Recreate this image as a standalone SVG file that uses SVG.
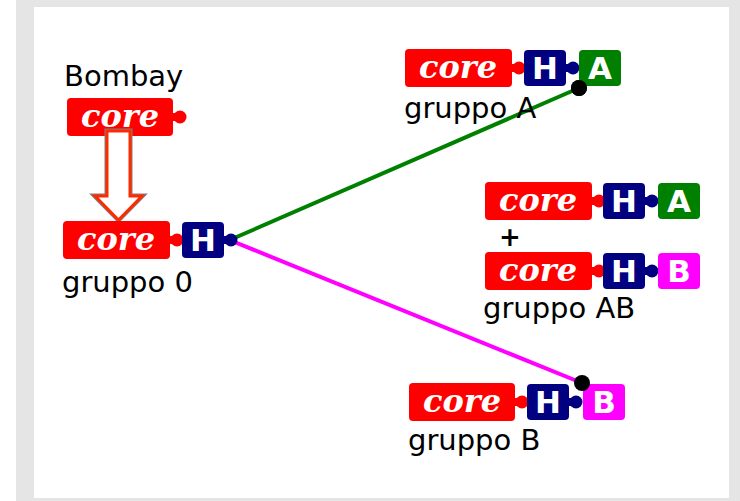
<svg xmlns="http://www.w3.org/2000/svg" width="740" height="501" viewBox="0 0 740 501">
<style>
.core{fill:#ff0000}
.h{fill:#000080}
.a{fill:#008000}
.b{fill:#ff00ff}
.ct{font-family:"DejaVu Serif",serif;font-weight:bold;font-style:italic;font-size:32px;fill:#fff;text-anchor:middle}
.lt{font-family:"DejaVu Sans",sans-serif;font-weight:bold;font-size:31px;fill:#fff;text-anchor:middle}
.lbl{font-family:"DejaVu Sans",sans-serif;font-size:29px;fill:#000}
</style>
<defs>
<g id="knobR"><rect x="-2" y="-4" width="8" height="8" fill="#ff0000"/><circle cx="7" cy="0" r="6.5" fill="#ff0000"/></g>
<g id="knobH"><rect x="-2" y="-4" width="8" height="8" fill="#000080"/><circle cx="7" cy="0" r="6.5" fill="#000080"/></g>
</defs>
<rect x="16" y="0" width="724" height="501" fill="#e5e5e5"/>
<rect x="34" y="7" width="695" height="491" fill="#fff"/>
<g id="connectors">
<line x1="232" y1="239" x2="579" y2="88" stroke="#008000" stroke-width="4"/>
<line x1="232" y1="241" x2="582" y2="383" stroke="#ff00ff" stroke-width="4"/>
<circle cx="579" cy="88" r="8" fill="#000"/>
</g>
<g id="bombay">
<text class="lbl" x="64" y="86">Bombay</text>
<use href="#knobR" x="173" y="117"/>
<rect class="core" x="67" y="98" width="106" height="38" rx="4"/>
<text class="ct" x="120" y="127">core</text>
</g>
<g id="arrow">
<path d="M107,131 H130 V196 H142 L118.5,220 L95,196 H107 Z" fill="#fff" stroke="#808080" stroke-width="5" stroke-linejoin="miter"/>
<path d="M107,131 H130 V196 H142 L118.5,220 L95,196 H107 Z" fill="#fff" stroke="#ff2a00" stroke-width="3" stroke-linejoin="miter"/>
</g>
<g id="gruppo0">
<use href="#knobR" x="170" y="240"/>
<rect class="core" x="63" y="221" width="107" height="38" rx="4"/>
<text class="ct" x="116" y="250">core</text>
<use href="#knobH" x="224" y="240"/>
<rect class="h" x="182" y="222" width="42" height="36" rx="4"/>
<text class="lt" x="203" y="251">H</text>
<text class="lbl" x="62" y="292">gruppo 0</text>
</g>
<g id="gruppoA">
<use href="#knobR" x="512" y="68"/>
<rect class="core" x="405" y="49" width="107" height="38" rx="4"/>
<text class="ct" x="458" y="78">core</text>
<use href="#knobH" x="566" y="68"/>
<rect class="h" x="524" y="50" width="42" height="36" rx="4"/>
<text class="lt" x="545" y="79">H</text>
<rect class="a" x="579" y="50" width="42" height="36" rx="4"/>
<text class="lt" x="600" y="79">A</text>
<circle cx="579" cy="88" r="8" fill="#000"/>
<text class="lbl" x="404" y="118">gruppo A</text>
</g>
<g id="gruppoAB">
<use href="#knobR" x="592" y="201"/>
<rect class="core" x="485" y="182" width="107" height="38" rx="4"/>
<text class="ct" x="538" y="211">core</text>
<use href="#knobH" x="645" y="201"/>
<rect class="h" x="603" y="183" width="42" height="36" rx="4"/>
<text class="lt" x="624" y="212">H</text>
<rect class="a" x="658" y="183" width="42" height="36" rx="4"/>
<text class="lt" x="679" y="212">A</text>
<text x="510" y="246" font-family="DejaVu Sans,sans-serif" font-weight="bold" font-size="26" text-anchor="middle">+</text>
<use href="#knobR" x="592" y="271"/>
<rect class="core" x="485" y="252" width="107" height="38" rx="4"/>
<text class="ct" x="538" y="281">core</text>
<use href="#knobH" x="645" y="271"/>
<rect class="h" x="603" y="253" width="42" height="36" rx="4"/>
<text class="lt" x="624" y="282">H</text>
<rect class="b" x="658" y="253" width="42" height="36" rx="4"/>
<text class="lt" x="679" y="282">B</text>
<text class="lbl" x="483" y="318">gruppo AB</text>
</g>
<g id="gruppoB">
<use href="#knobR" x="515" y="402"/>
<rect class="core" x="409" y="383" width="106" height="38" rx="4"/>
<text class="ct" x="462" y="412">core</text>
<use href="#knobH" x="569" y="402"/>
<rect class="h" x="527" y="384" width="42" height="36" rx="4"/>
<text class="lt" x="548" y="413">H</text>
<rect class="b" x="583" y="384" width="42" height="36" rx="4"/>
<text class="lt" x="604" y="413">B</text>
<circle cx="582" cy="383" r="8" fill="#000"/>
<text class="lbl" x="408" y="450">gruppo B</text>
</g>
</svg>
